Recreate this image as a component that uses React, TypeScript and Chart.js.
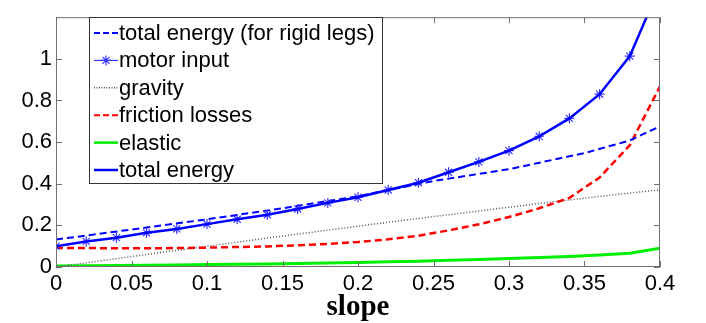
import React, { useEffect, useRef } from "react";
import { Chart, registerables } from "chart.js";

Chart.register(...registerables);

// ---- data ----
const slope = [0, 0.02, 0.04, 0.06, 0.08, 0.1, 0.12, 0.14, 0.16, 0.18, 0.2, 0.22, 0.24, 0.26, 0.28, 0.3, 0.32, 0.34, 0.36, 0.38, 0.4];
const totalEnergy = [0.1, 0.123, 0.141, 0.164, 0.183, 0.206, 0.229, 0.251, 0.279, 0.308, 0.335, 0.37, 0.405, 0.455, 0.505, 0.559, 0.628, 0.714, 0.83, 1.013, 1.35];
const motorInput = [0.1, 0.123, 0.141, 0.164, 0.183, 0.206, 0.229, 0.251, 0.279, 0.308, 0.335, 0.37, 0.405, 0.455, 0.505, 0.559, 0.628, 0.714, 0.83, 1.013, 1.35];
const gravity = [0, 0.02, 0.04, 0.06, 0.08, 0.0995, 0.119, 0.139, 0.158, 0.177, 0.196, 0.215, 0.233, 0.251, 0.269, 0.287, 0.305, 0.322, 0.339, 0.355, 0.371];
const friction = [0.092, 0.091, 0.09, 0.09, 0.091, 0.093, 0.096, 0.099, 0.104, 0.111, 0.12, 0.133, 0.15, 0.176, 0.205, 0.24, 0.282, 0.332, 0.43, 0.585, 0.868];
const elastic = [0.005, 0.006, 0.007, 0.008, 0.01, 0.012, 0.013, 0.015, 0.017, 0.019, 0.022, 0.025, 0.028, 0.032, 0.036, 0.041, 0.046, 0.051, 0.058, 0.066, 0.09];
const rigidSlope = [0, 0.05, 0.1, 0.15, 0.2, 0.25, 0.3, 0.35, 0.38, 0.4];
const rigidTotal = [0.132, 0.18, 0.229, 0.282, 0.34, 0.413, 0.47, 0.547, 0.608, 0.676];

const xTicks = [0, 0.05, 0.1, 0.15, 0.2, 0.25, 0.3, 0.35, 0.4];
const yTicks = [0, 0.2, 0.4, 0.6, 0.8, 1];

const legendLabels = [
  "total energy (for rigid legs)",
  "motor input",
  "gravity",
  "friction losses",
  "elastic",
  "total energy",
];

const BLUE = "#0000ff";
const MOTOR = "#3535ff";
const RED = "#ff0000";
const GREEN = "#00ee00";
const GRAY = "#555555";

const fmt = (v: number) => String(Number(v.toFixed(2)));
const pts = (xs: number[], ys: number[]) => xs.map((x, i) => ({ x, y: ys[i] }));

function drawStar(ctx: CanvasRenderingContext2D, x: number, y: number, r: number) {
  ctx.beginPath();
  ctx.moveTo(x - r, y); ctx.lineTo(x + r, y);
  ctx.moveTo(x, y - r); ctx.lineTo(x, y + r);
  const d = r * 0.7071;
  ctx.moveTo(x - d, y - d); ctx.lineTo(x + d, y + d);
  ctx.moveTo(x - d, y + d); ctx.lineTo(x + d, y - d);
  ctx.stroke();
}

const framePlugin = {
  id: "frameTicks",
  afterDatasetsDraw(chart: any) {
    const { ctx, chartArea: a, scales } = chart;
    const xs = scales.x, ys = scales.y;
    ctx.save();
    ctx.strokeStyle = "#707070";
    ctx.lineWidth = 1;
    ctx.setLineDash([]);
    ctx.strokeRect(a.left + 0.5, a.top + 0.5, a.right - a.left - 1, a.bottom - a.top - 1);
    const L = 6;
    ctx.beginPath();
    xTicks.forEach((v) => {
      const px = Math.round(xs.getPixelForValue(v)) + 0.5;
      ctx.moveTo(px, a.bottom); ctx.lineTo(px, a.bottom - L);
      ctx.moveTo(px, a.top); ctx.lineTo(px, a.top + L);
    });
    yTicks.forEach((v) => {
      const py = Math.round(ys.getPixelForValue(v)) + 0.5;
      ctx.moveTo(a.left, py); ctx.lineTo(a.left + L, py);
      ctx.moveTo(a.right, py); ctx.lineTo(a.right - L, py);
    });
    ctx.stroke();
    ctx.restore();
  },
};

const legendPlugin = {
  id: "boxLegend",
  afterDraw(chart: any) {
    const { ctx } = chart;
    const bx = 89, by = 17, bw = 293, bh = 166;
    ctx.save();
    ctx.fillStyle = "#ffffff";
    ctx.fillRect(bx, by, bw, bh);
    ctx.strokeStyle = "#333333";
    ctx.lineWidth = 1;
    ctx.strokeRect(bx + 0.5, by + 0.5, bw, bh);
    const styles = [
      { c: BLUE, w: 2, dash: [6, 3] },
      { c: MOTOR, w: 1.2, dash: [], star: true },
      { c: GRAY, w: 1.5, dash: [1, 1.5] },
      { c: RED, w: 2, dash: [6, 3] },
      { c: GREEN, w: 2.5, dash: [] },
      { c: BLUE, w: 2.5, dash: [] },
    ];
    const x0 = 94, x1 = 118, y0 = 33, dy = 27.4;
    ctx.font = "22px 'Liberation Sans', Arial, sans-serif";
    ctx.textBaseline = "middle";
    ctx.textAlign = "left";
    legendLabels.forEach((lab, i) => {
      const s = styles[i];
      const y = y0 + i * dy;
      ctx.strokeStyle = s.c;
      ctx.lineWidth = s.w;
      ctx.setLineDash(s.dash);
      ctx.beginPath();
      ctx.moveTo(x0, y); ctx.lineTo(x1, y);
      ctx.stroke();
      ctx.setLineDash([]);
      if (s.star) { ctx.lineWidth = 1.2; drawStar(ctx, (x0 + x1) / 2, y, 5); }
      ctx.fillStyle = "#000000";
      ctx.fillText(lab, 119, y + 1);
    });
    ctx.restore();
  },
};

export default function App() {
  const ref = useRef<HTMLCanvasElement>(null);
  useEffect(() => {
    if (!ref.current) return;
    const chart = new Chart(ref.current, {
      type: "line",
      data: {
        datasets: [
          { label: legendLabels[5], data: pts(slope, totalEnergy), borderColor: BLUE, borderWidth: 2.5, pointRadius: 0, tension: 0 },
          { label: legendLabels[1], data: pts(slope, motorInput), borderColor: MOTOR, borderWidth: 1, pointStyle: "star", pointRadius: 5, pointBorderWidth: 1.2, pointBorderColor: MOTOR, pointBackgroundColor: MOTOR, tension: 0 },
          { label: legendLabels[0], data: pts(rigidSlope, rigidTotal), borderColor: BLUE, borderWidth: 2, borderDash: [7, 4], pointRadius: 0, tension: 0 },
          { label: legendLabels[3], data: pts(slope, friction), borderColor: RED, borderWidth: 2.5, borderDash: [7, 4], pointRadius: 0, tension: 0 },
          { label: legendLabels[2], data: pts(slope, gravity), borderColor: GRAY, borderWidth: 1.5, borderDash: [1, 2], pointRadius: 0, tension: 0 },
          { label: legendLabels[4], data: pts(slope, elastic), borderColor: GREEN, borderWidth: 3, pointRadius: 0, tension: 0 },
        ],
      },
      options: {
        animation: false,
        responsive: false,
        devicePixelRatio: 1,
        layout: { padding: { top: 3, right: 46, left: 0, bottom: 0 } },
        plugins: { legend: { display: false }, tooltip: { enabled: false } },
        scales: {
          x: {
            type: "linear",
            min: 0,
            max: 0.4,
            afterBuildTicks: (s: any) => { s.ticks = xTicks.map((v) => ({ value: v })); },
            afterFit: (s: any) => { s.height = 56; },
            grid: { display: false, drawTicks: false },
            border: { display: false },
            ticks: {
              autoSkip: false, maxRotation: 0, minRotation: 0, padding: 4,
              color: "#000", font: { size: 22, family: "'Liberation Sans', Arial, sans-serif" },
              callback: (v: any) => fmt(Number(v)),
            },
            title: {
              display: true, text: "slope", color: "#000",
              font: { size: 29, weight: "bold", lineHeight: 1, family: "'Liberation Serif', 'Times New Roman', serif" },
              padding: { top: 0, bottom: 1 },
            },
          },
          y: {
            type: "linear",
            min: 0,
            max: 1.2,
            afterBuildTicks: (s: any) => { s.ticks = yTicks.map((v) => ({ value: v })); },
            afterFit: (s: any) => { s.width = 56; },
            grid: { display: false, drawTicks: false },
            border: { display: false },
            ticks: {
              padding: 4, color: "#000",
              font: { size: 22, family: "'Liberation Sans', Arial, sans-serif" },
              callback: (v: any) => fmt(Number(v)),
            },
          },
        },
      },
      plugins: [framePlugin, legendPlugin],
    } as any);
    return () => chart.destroy();
  }, []);
  return (
    <div style={{ position: "absolute", left: 0, top: 0, width: 706, height: 323, background: "#fff" }}>
      <canvas ref={ref} width={706} height={323} style={{ display: "block" }} />
    </div>
  );
}
